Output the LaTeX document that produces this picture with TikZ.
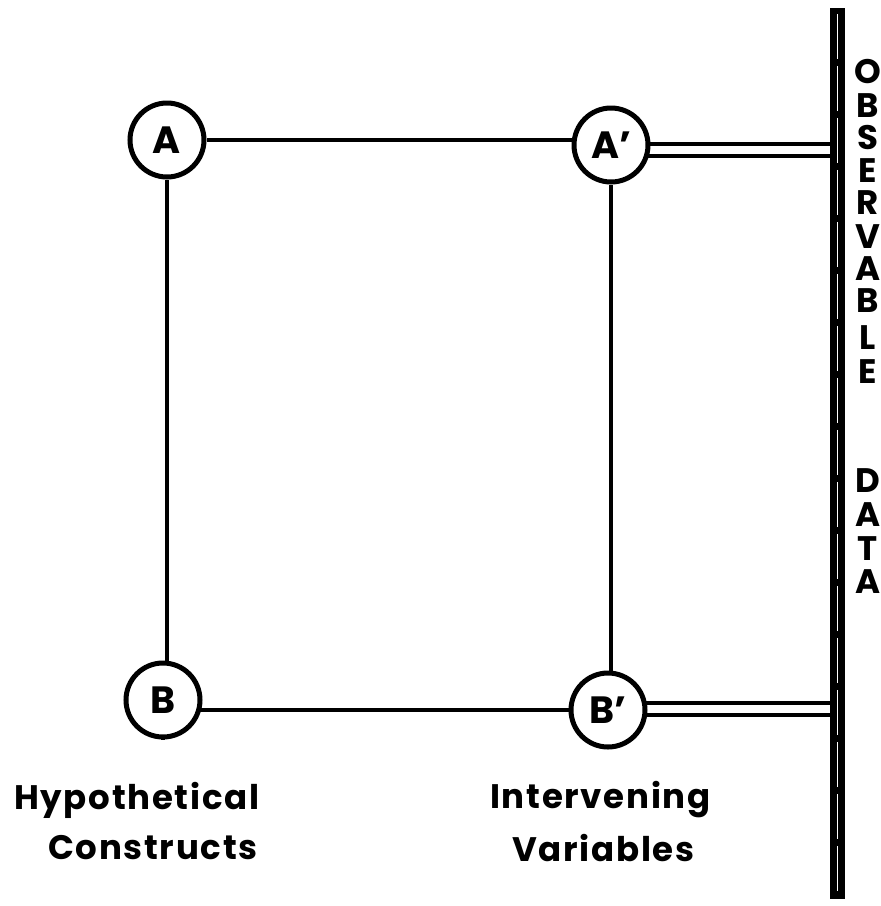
\documentclass[tikz,border=0pt]{standalone}
\usepackage{fontspec}
\setmainfont{Poppins}
\pgfdeclarelayer{bg}
\pgfsetlayers{bg,main}
\tikzset{
  vert/.style={circle,draw,line width=5pt,fill=white,minimum size=74pt,inner sep=0pt,font=\fontsize{38}{38}\selectfont\bfseries},
  link/.style={line width=4.5pt},
  vlink/.style={line width=3.5pt},
  dbl/.style={double,line width=4pt,double distance=8pt},
  side/.style={font=\fontsize{34}{34}\selectfont\bfseries,anchor=center,inner sep=0pt},
  lbl/.style={font=\fontsize{34}{34}\selectfont\bfseries\addfontfeature{LetterSpace=5},anchor=west,inner sep=0pt}
}
\begin{document}
\begin{tikzpicture}[x=1pt,y=-1pt]
\useasboundingbox (0,0) rectangle (881,906);
\node[vert] (A)  at (167,140) {A};
\node[vert] (Ap) at (611,145) {A'};
\node[vert] (B)  at (163,700) {B};
\node[vert] (Bp) at (608,710) {B'};
% bar
\fill (830,8) rectangle (845,899);
\draw[white,line width=1.8pt,dash pattern=on 45pt off 7pt] (837.5,14) -- (837.5,893);
\coordinate (barA) at (831,150);
\coordinate (barB) at (831,709);
\begin{pgfonlayer}{bg}
\draw[link] (A) -- (A -| Ap);
\draw[link] (B) -- (B |- Bp.center) -- (Bp);
\draw[vlink] (A) -- (A |- B);
\draw[vlink] (Ap) -- (Ap |- Bp);
\draw[dbl] (Ap.center |- barA) -- (barA);
\draw[dbl] (Bp.center |- barB) -- (barB);
\end{pgfonlayer}
% vertical letters
\foreach \c/\y [count=\i] in {O/72,B/106,S/138,E/171,R/203,V/237,A/269,B/301,L/338,E/372,D/481,A/515,T/549,A/582}{
  \node[side] (s\i) at (868,\y) {\c};
}
\node[lbl] (h1) at (14,800) {Hypothetical};
\node[lbl] (h2) at (48,848) {Constructs};
\node[lbl] (i1) at (490,800) {Intervening};
\node[lbl] (i2) at (512,848) {Variables};
\end{tikzpicture}
\end{document}
